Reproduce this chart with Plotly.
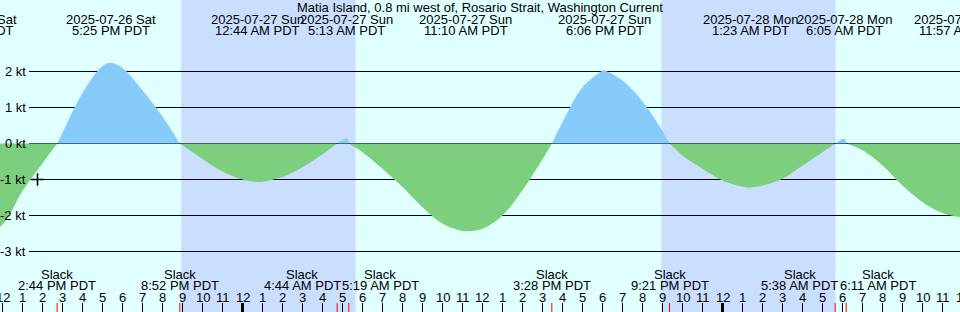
import plotly.graph_objects as go
from datetime import datetime, timedelta

# ---------------- data ----------------
TITLE = "Matia Island, 0.8 mi west of, Rosario Strait, Washington Current"

TIMES = [
    "2025-07-26 10:27", "2025-07-26 11:00", "2025-07-26 12:00", "2025-07-26 13:00",
    "2025-07-26 14:00", "2025-07-26 14:44", "2025-07-26 15:00", "2025-07-26 16:00",
    "2025-07-26 17:00", "2025-07-26 17:25", "2025-07-26 18:00", "2025-07-26 19:00",
    "2025-07-26 20:00", "2025-07-26 20:52", "2025-07-26 21:00", "2025-07-26 22:00",
    "2025-07-26 23:00", "2025-07-27 00:00", "2025-07-27 00:44", "2025-07-27 01:00",
    "2025-07-27 02:00", "2025-07-27 03:00", "2025-07-27 04:00", "2025-07-27 04:44",
    "2025-07-27 05:00", "2025-07-27 05:13", "2025-07-27 05:19", "2025-07-27 06:00",
    "2025-07-27 07:00", "2025-07-27 08:00", "2025-07-27 09:00", "2025-07-27 10:00",
    "2025-07-27 11:00", "2025-07-27 11:10", "2025-07-27 12:00", "2025-07-27 13:00",
    "2025-07-27 14:00", "2025-07-27 15:00", "2025-07-27 15:28", "2025-07-27 16:00",
    "2025-07-27 17:00", "2025-07-27 18:00", "2025-07-27 18:06", "2025-07-27 19:00",
    "2025-07-27 20:00", "2025-07-27 21:00", "2025-07-27 21:21", "2025-07-27 22:00",
    "2025-07-27 23:00", "2025-07-28 00:00", "2025-07-28 01:00", "2025-07-28 01:23",
    "2025-07-28 02:00", "2025-07-28 03:00", "2025-07-28 04:00", "2025-07-28 05:00",
    "2025-07-28 05:38", "2025-07-28 06:05", "2025-07-28 06:11", "2025-07-28 07:00",
    "2025-07-28 08:00", "2025-07-28 09:00", "2025-07-28 10:00", "2025-07-28 11:00",
    "2025-07-28 11:57", "2025-07-28 13:00",
]
SPEED_KT = [
    -2.62, -2.58, -2.25, -1.32,
    -0.55, 0.0, 0.30, 1.40,
    2.15, 2.24, 2.10, 1.48,
    0.75, 0.0, -0.05, -0.43,
    -0.78, -1.00, -1.07, -1.06,
    -0.93, -0.66, -0.30, 0.0,
    0.10, 0.15, 0.0, -0.24,
    -0.70, -1.21, -1.77, -2.23,
    -2.43, -2.44, -2.37, -2.00,
    -1.30, -0.44, 0.0, 0.59,
    1.56, 2.02, 2.03, 1.75,
    1.17, 0.35, 0.0, -0.33,
    -0.70, -1.03, -1.20, -1.22,
    -1.17, -0.98, -0.61, -0.24,
    0.0, 0.13, 0.0, -0.19,
    -0.61, -1.17, -1.63, -1.93,
    -2.04, -1.95,
]

# max flood / max ebb events (top labels)
MAX_TIMES = [
    "2025-07-26 10:27", "2025-07-26 17:25", "2025-07-27 00:44", "2025-07-27 05:13",
    "2025-07-27 11:10", "2025-07-27 18:06", "2025-07-28 01:23", "2025-07-28 06:05",
    "2025-07-28 11:57",
]
# slack events (bottom labels, red ticks)
SLACK_TIMES = [
    "2025-07-26 14:44", "2025-07-26 20:52", "2025-07-27 04:44", "2025-07-27 05:19",
    "2025-07-27 15:28", "2025-07-27 21:21", "2025-07-28 05:38", "2025-07-28 06:11",
]
SUNSET = ["2025-07-26 20:56", "2025-07-27 20:57"]
SUNRISE = ["2025-07-27 05:39", "2025-07-28 05:39"]

MARK_TIME = "2025-07-26 13:45"
MARK_KT = -1.0

Y_TICKS = [2, 1, 0, -1, -2, -3]
X_RANGE = ["2025-07-26 11:52:30", "2025-07-28 11:52:30"]

# ---------------- style ----------------
W, H = 960, 312
DAY = "#e0ffff"
NIGHT = "#cadeff"
FLOOD = "#87cbfa"
EBB = "#7ccf7c"
FONT = dict(family="Liberation Sans", size=13, color="black")
ZERO_PX = 143.5
PX_PER_KT = 36

t0 = datetime.fromisoformat(X_RANGE[0])
t1 = datetime.fromisoformat(X_RANGE[1])
span = (t1 - t0).total_seconds()


def px_of(ts):
    d = ts if isinstance(ts, datetime) else datetime.fromisoformat(ts)
    return (d - t0).total_seconds() / span * W


def yp(py):
    return 1 - py / H


fig = go.Figure()

# current lobes (split at slack zeros)
segs, cur = [], []
for t, v in zip(TIMES, SPEED_KT):
    cur.append((t, v))
    if v == 0 and len(cur) > 1:
        segs.append(cur)
        cur = [(t, v)]
if len(cur) > 1:
    segs.append(cur)

for seg in segs:
    xs = [p[0] for p in seg]
    ys = [p[1] for p in seg]
    col = FLOOD if sum(ys) > 0 else EBB
    fig.add_trace(go.Scatter(
        x=xs, y=ys, mode="lines", fill="tozeroy", fillcolor=col,
        line=dict(color=col, width=0, shape="spline", smoothing=1.0),
        hoverinfo="skip", showlegend=False))

fig.add_trace(go.Scatter(
    x=[MARK_TIME], y=[MARK_KT], mode="markers",
    marker=dict(symbol="cross-thin", size=9, line=dict(color="black", width=1.5)),
    hoverinfo="skip", showlegend=False))

shapes = []
for s, r in zip(SUNSET, SUNRISE):
    shapes.append(dict(type="rect", xref="x", yref="paper", x0=s, x1=r, y0=0, y1=1,
                       fillcolor=NIGHT, line=dict(width=0), layer="below"))
for v in Y_TICKS:
    shapes.append(dict(type="line", xref="paper", yref="y", x0=29 / W, x1=1, y0=v, y1=v,
                       line=dict(color="black", width=1), layer="below"))

annotations = []
annotations.append(dict(text=TITLE, xref="paper", yref="paper", x=0.5, y=yp(7),
                        showarrow=False, font=FONT, xanchor="center", yanchor="middle"))
for v in Y_TICKS:
    annotations.append(dict(text=f"{v} kt", xref="paper", yref="y", x=28 / W, y=v,
                            showarrow=False, font=FONT, xanchor="right", yanchor="middle"))

for ts in MAX_TIMES:
    d = datetime.fromisoformat(ts)
    x = px_of(ts) / W
    annotations.append(dict(text=d.strftime("%Y-%m-%d %a"), xref="paper", yref="paper",
                            x=x, y=yp(19), showarrow=False, font=FONT,
                            xanchor="center", yanchor="middle"))
    annotations.append(dict(text=d.strftime("%-I:%M %p PDT"), xref="paper", yref="paper",
                            x=x, y=yp(31), showarrow=False, font=FONT,
                            xanchor="center", yanchor="middle"))

# slack labels, pushed apart when they would overlap
LABEL_W = 78
centers = [px_of(ts) for ts in SLACK_TIMES]
for i in range(len(centers) - 1):
    if centers[i + 1] - centers[i] < LABEL_W:
        mid = (centers[i] + centers[i + 1]) / 2
        centers[i] = mid - LABEL_W / 2 - 2
        centers[i + 1] = mid + LABEL_W / 2 - 2
for ts, c in zip(SLACK_TIMES, centers):
    d = datetime.fromisoformat(ts)
    annotations.append(dict(text="Slack", xref="paper", yref="paper", x=c / W, y=yp(274),
                            showarrow=False, font=FONT, xanchor="center", yanchor="middle"))
    annotations.append(dict(text=d.strftime("%-I:%M %p PDT"), xref="paper", yref="paper",
                            x=c / W, y=yp(285), showarrow=False, font=FONT,
                            xanchor="center", yanchor="middle"))
    shapes.append(dict(type="line", xref="x", yref="paper", x0=ts, x1=ts,
                       y0=0, y1=9 / H, line=dict(color="red", width=1)))

# hour ticks
h = t0.replace(minute=0, second=0) + timedelta(hours=1)
while h <= t1 + timedelta(hours=1):
    lab = str(h.hour % 12 or 12)
    xp = px_of(h) / W
    annotations.append(dict(text=lab, xref="paper", yref="paper", x=xp, y=yp(297),
                            showarrow=False, font=FONT, xanchor="center", yanchor="middle"))
    shapes.append(dict(type="line", xref="paper", yref="paper", x0=xp, x1=xp, y0=0, y1=9 / H,
                       line=dict(color="black", width=3 if h.hour == 0 else 1)))
    h += timedelta(hours=1)

fig.update_layout(
    width=W, height=H,
    margin=dict(l=0, r=0, t=0, b=0),
    paper_bgcolor=DAY, plot_bgcolor=DAY,
    xaxis=dict(type="date", range=X_RANGE, visible=False, fixedrange=True),
    yaxis=dict(range=[-(H - ZERO_PX) / PX_PER_KT, ZERO_PX / PX_PER_KT],
               visible=False, fixedrange=True),
    shapes=shapes, annotations=annotations, showlegend=False,
)

fig.write_html("out.html", config={"displayModeBar": False})
